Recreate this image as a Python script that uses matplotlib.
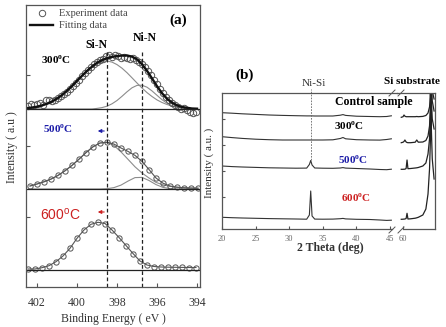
import matplotlib
matplotlib.use('Agg')
import matplotlib.pyplot as plt
import numpy as np

plt.rcParams['font.family'] = ['Liberation Serif', 'DejaVu Serif']

# ---------------- (a) XPS N 1s data, heights in a.u. above each baseline
ev_fit300 = [402.5, 402.25, 402.0, 401.75, 401.5, 401.25, 401.0, 400.75, 400.5,
             400.25, 400.0, 399.75, 399.5, 399.25, 399.0, 398.75, 398.5, 398.25,
             398.0, 397.75, 397.5, 397.25, 397.0, 396.75, 396.5, 396.25, 396.0,
             395.75, 395.5, 395.25, 395.0, 394.75, 394.5, 394.25, 394.0]
sin_300 = [0.9, 1.4, 2.3, 3.6, 5.2, 7.5, 10.4, 13.9, 18.2, 22.9, 28.1, 33.2,
           38.1, 42.3, 45.6, 47.5, 48.0, 46.9, 44.4, 40.8, 36.3, 31.2, 26.0,
           21.0, 16.4, 12.5, 9.1, 6.5, 4.5, 3.0, 1.9, 1.2, 0.8, 0.4, 0.3]
nin_300 = [0, 0, 0, 0, 0, 0, 0, 0, 0, 0, 0, 0, 0, 0, 0.6, 1.4, 2.8, 5.2, 8.5,
           12.7, 17.2, 21.2, 23.6, 23.8, 21.8, 18.1, 13.7, 9.3, 5.8, 3.3, 1.7,
           0.8, 0.4, 0.1, 0.0]
ev_exp300 = [402.45, 402.3, 402.15, 402.0, 401.85, 401.7, 401.55, 401.4, 401.25,
             401.1, 400.95, 400.8, 400.65, 400.5, 400.35, 400.2, 400.05, 399.9,
             399.75, 399.6, 399.45, 399.3, 399.15, 399.0, 398.85, 398.7, 398.55,
             398.4, 398.25, 398.1, 397.95, 397.8, 397.65, 397.5, 397.35, 397.2,
             397.05, 396.9, 396.75, 396.6, 396.45, 396.3, 396.15, 396.0, 395.85,
             395.7, 395.55, 395.4, 395.25, 395.1, 394.95, 394.8, 394.65, 394.5,
             394.35, 394.2, 394.05]
exp300 = [3.5, 5.0, 4.0, 5.5, 6.0, 4.5, 9.0, 9.5, 8.0, 9.0, 11.5, 13.0, 15.0,
          17.5, 20.0, 23.0, 26.5, 29.5, 33.0, 36.5, 39.0, 42.5, 45.0, 47.0,
          49.5, 50.5, 53.5, 54.5, 52.0, 54.0, 53.0, 51.5, 52.5, 51.0, 50.0,
          51.5, 49.5, 47.0, 45.5, 42.0, 38.5, 34.0, 29.0, 25.0, 20.0, 16.5,
          12.5, 9.5, 6.5, 4.0, 2.0, 0.5, 1.5, -0.5, -2.5, -4.0, -3.0]

ev500 = [402.35, 402.0, 401.65, 401.3, 400.95, 400.6, 400.25, 399.9, 399.55,
         399.2, 398.85, 398.5, 398.15, 397.8, 397.45, 397.1, 396.75, 396.4,
         396.05, 395.7, 395.35, 395.0, 394.65, 394.3, 393.95]
exp500 = [3.0, 5.0, 7.2, 9.9, 13.6, 18.2, 23.6, 29.8, 36.4, 42.2, 46.0, 46.8,
          44.9, 41.0, 37.6, 33.6, 27.6, 19.5, 11.0, 5.8, 3.0, 1.8, 1.2, 0.9, 0.8]
sin_500 = [3.0, 5.0, 7.2, 9.9, 13.6, 18.2, 23.6, 29.8, 36.4, 42.2, 46.0, 46.5,
           43.5, 37.1, 29.7, 22.2, 16.0, 11.0, 6.6, 4.2, 2.6, 1.7, 1.2, 0.9, 0.8]
nin_500 = [0, 0, 0, 0, 0, 0, 0, 0, 0, 0, 0, 0.3, 1.4, 3.9, 7.9, 11.4, 11.6,
           8.5, 4.4, 1.6, 0.4, 0.1, 0, 0, 0]

ev600 = [402.45, 402.1, 401.75, 401.4, 401.05, 400.7, 400.35, 400.0, 399.65,
         399.3, 398.95, 398.6, 398.25, 397.9, 397.55, 397.2, 396.85, 396.5,
         396.15, 395.8, 395.45, 395.1, 394.75, 394.4, 394.05]
exp600 = [1.0, 1.0, 2.3, 4.3, 8.3, 14.0, 21.7, 31.7, 40.0, 45.7, 47.7, 46.5,
          40.0, 32.5, 24.5, 16.5, 9.0, 5.0, 3.5, 3.0, 2.8, 2.7, 2.6, 2.5, 2.5]

peak_pos = [398.5, 396.77]   # Si-N, Ni-N

# ---------------- (b) XRD scans, 2 theta in deg
tt_low = [20, 21.5, 23, 25, 27, 29, 31, 32.6, 33.0, 33.2, 33.4, 33.8, 35, 36.5,
          37.6, 38.0, 38.4, 40, 42, 43.5, 44.5, 45.2]
ctrl_low = [116.3, 115.8, 115.2, 114.6, 114.0, 113.6, 113.3, 113.1, 113.1, 113.1,
            113.1, 113.0, 113.0, 113.0, 113.8, 114.4, 113.6, 112.8, 112.5,
            112.3, 112.5, 113.2]
x300_low = [92.3, 91.4, 90.6, 89.8, 89.3, 89.0, 89.0, 89.0, 89.0, 89.0, 89.0,
            89.0, 89.0, 89.2, 90.5, 91.5, 90.2, 89.3, 89.0, 88.9, 89.5, 90.2]
x500_low = [63.0, 62.4, 62.0, 61.6, 61.2, 61.0, 60.8, 60.9, 64.5, 68.5, 64.0,
            61.0, 60.8, 60.7, 61.0, 61.4, 60.9, 60.5, 60.0, 59.5, 59.3, 59.8]
x600_low = [11.7, 11.3, 11.0, 10.7, 10.4, 10.2, 10.0, 9.8, 14.0, 38.0, 13.0,
            9.9, 9.8, 9.9, 10.3, 10.6, 10.1, 9.7, 9.5, 9.0, 8.6, 8.8]
tt_high = [59.4, 60.0, 60.3, 60.6, 61.0, 61.3, 61.6, 62.5, 64.0, 64.5, 65.0,
           66.5, 67.5, 68.2, 68.7, 69.0, 69.15, 69.3, 69.6, 70.2]
ctrl_high = [111.7, 112.3, 114.0, 112.8, 112.3, 112.3, 112.3, 112.3, 112.3,
             112.5, 112.3, 112.6, 113.5, 116.0, 122.0, 132.0, 400.0, 145.0,
             138.0, 130.0]
x300_high = [86.3, 86.8, 87.5, 89.0, 87.0, 86.5, 86.3, 86.3, 86.8, 89.0, 86.8,
             87.0, 88.5, 93.0, 103.0, 120.0, 400.0, 150.0, 128.0, 118.0]
x500_high = [59.7, 59.7, 59.8, 59.8, 60.5, 69.0, 60.3, 60.5, 61.0, 61.2, 61.5,
             63.0, 66.0, 75.0, 90.0, 116.0, 400.0, 130.0, 110.0, 100.0]
x600_high = [9.7, 9.8, 9.9, 10.0, 10.5, 15.7, 10.0, 10.2, 10.8, 11.2, 11.7,
             14.0, 20.0, 35.0, 60.0, 90.0, 400.0, 100.0, 70.0, 50.0]
nisi_pos = 33.2

BLUE = '#1c1ca8'
RED = '#cc2020'
W, H = 446, 327

fig = plt.figure(figsize=(W / 100, H / 100), dpi=100)


def box(l, t, r, b):
    return [l / W, 1 - b / H, (r - l) / W, (b - t) / H]


def ftext(x, y, s, **kw):
    kw.setdefault('ha', 'center')
    kw.setdefault('va', 'center')
    fig.text(x / W, 1 - y / H, s, **kw)


def frame(a):
    for sp in a.spines.values():
        sp.set_color('#555555')
        sp.set_linewidth(0.9)


# ---------------- panel (a)
ax = fig.add_axes(box(26, 5, 200, 287))
ax.set_xlim(402.55, 393.85)
ax.set_ylim(0, 282)
frame(ax)

b300, b500, b600 = 178, 98, 17
sin_300, nin_300 = np.array(sin_300), np.array(nin_300)
sin_500, nin_500 = np.array(sin_500), np.array(nin_500)

ax.plot(ev_fit300, sin_300 + b300, color='#8c8c8c', lw=0.8)
ax.plot(ev_fit300, nin_300 + b300, color='#8c8c8c', lw=0.8)
exp_h, = ax.plot(ev_exp300, np.array(exp300) + b300, 'o', mfc='none',
                 mec='#555555', ms=4.6, mew=0.7)
fit_h, = ax.plot(ev_fit300, sin_300 + nin_300 + b300, color='#111111', lw=1.7)

ax.plot(ev500, sin_500 + b500, color='#8c8c8c', lw=0.8)
ax.plot(ev500, nin_500 + b500, color='#8c8c8c', lw=0.8)
ax.plot(ev500, sin_500 + nin_500 + b500, color='#555555', lw=0.8)
ax.plot(ev500, np.array(exp500) + b500, 'o', mfc='none', mec='#555555',
        ms=3.8, mew=0.7)

ax.plot(ev600, np.array(exp600) + b600, '-o', color='#555555', mfc='none',
        ms=3.8, mew=0.7, lw=0.8)

for b in (b300, b500, b600):
    ax.axhline(b, color='#222222', lw=0.9)
for p in peak_pos:
    ax.plot([p, p], [0, 237], color='#222222', lw=0.9, ls=(0, (3, 2)))

ax.annotate('', xy=(399.1, 156), xytext=(398.5, 156),
            arrowprops=dict(arrowstyle='-|>', color=BLUE, lw=0.8,
                            mutation_scale=5))
ax.annotate('', xy=(399.1, 75), xytext=(398.5, 75),
            arrowprops=dict(arrowstyle='-|>', color=RED, lw=0.8,
                            mutation_scale=5))

ax.legend([exp_h, fit_h], ['Experiment data', 'Fitting data'],
          loc='upper left', frameon=False, fontsize=7.5, labelcolor='#444444',
          handlelength=2.2, handletextpad=0.6, borderaxespad=0.2,
          borderpad=0.2, labelspacing=0.25)

ax.set_xticks([402, 400, 398, 396, 394])
ax.set_yticks([70, 141, 212])
ax.set_yticklabels([])
ax.tick_params(direction='in', length=3, color='#555555')
ax.tick_params(axis='x', labelsize=8.5, labelcolor='#333333', pad=7)

ftext(178, 20, '(a)', fontsize=11, fontweight='bold')
ftext(96, 45, 'Si-N', fontsize=8.5, fontweight='bold')
ftext(145, 38, 'Ni-N', fontsize=8.5, fontweight='bold')
ftext(56, 60, '300$^\\mathregular{o}$C', fontsize=8, fontweight='bold')
ftext(58, 129, '500$^\\mathregular{o}$C', fontsize=8, fontweight='bold',
      color=BLUE)
ftext(60, 215, '600$^\\mathregular{o}$C', fontsize=10, color=RED,
      family=['Liberation Sans', 'DejaVu Sans'])
ftext(12, 147, 'Intensity ( a.u )', fontsize=8.5, rotation=90, color='#333333')
ftext(113, 319, 'Binding Energy ( eV )', fontsize=8.5, color='#333333')

# ---------------- panel (b), broken 2 theta axis
bx1 = fig.add_axes(box(222, 93, 397, 229))
bx2 = fig.add_axes(box(397, 93, 435, 229))
bx1.set_xlim(20, 46.04)
bx2.set_xlim(58, 70.5)
for a in (bx1, bx2):
    a.set_ylim(0, 136)
    a.patch.set_alpha(0)
    frame(a)
    a.tick_params(direction='in', length=2.5, color='#555555', labelsize=6,
                  labelcolor='#666666', pad=4)
bx1.spines['right'].set_visible(False)
bx2.spines['left'].set_visible(False)
bx1.spines['bottom'].set_bounds(20, 45.3)
bx2.spines['bottom'].set_bounds(59.9, 70.5)

for ys in (ctrl_low, x300_low, x500_low, x600_low):
    bx1.plot(tt_low, ys, color='#333333', lw=0.8)
for ys in (ctrl_high, x300_high, x500_high, x600_high):
    bx2.plot(tt_high, ys, color='#222222', lw=0.9)
bx1.plot([nisi_pos, nisi_pos], [69, 140], color='#666666', lw=0.6,
         ls=(0, (2, 1.5)), clip_on=False)

bx1.set_xticks([20, 25, 30, 35, 40, 45])
bx1.set_yticks([32, 58, 84, 110])
bx1.set_yticklabels([])
bx2.set_xticks([60])
bx2.set_yticks([])

# break marks
for x0 in (389, 398):
    for y0 in (96, 233):
        fig.add_artist(plt.Line2D([x0 / W, (x0 + 6) / W],
                                  [1 - y0 / H, 1 - (y0 - 6) / H],
                                  color='#555555', lw=0.7))

ftext(245, 75, '(b)', fontsize=11, fontweight='bold')
ftext(314, 83, 'Ni-Si', fontsize=8, color='#333333')
ftext(412, 82, 'Si substrate', fontsize=8, fontweight='bold')
ftext(374, 102, 'Control sample', fontsize=8.5, fontweight='bold')
ftext(349, 126, '300$^\\mathregular{o}$C', fontsize=8, fontweight='bold')
ftext(353, 160, '500$^\\mathregular{o}$C', fontsize=8, fontweight='bold',
      color=BLUE)
ftext(356, 198, '600$^\\mathregular{o}$C', fontsize=8, fontweight='bold',
      color=RED)
ftext(209, 163, 'Intensity ( a.u. )', fontsize=8, rotation=90,
      color='#333333')
ftext(330, 248, '2 Theta (deg)', fontsize=8.5, fontweight='bold',
      color='#333333')

fig.savefig('out.png', dpi=100)
